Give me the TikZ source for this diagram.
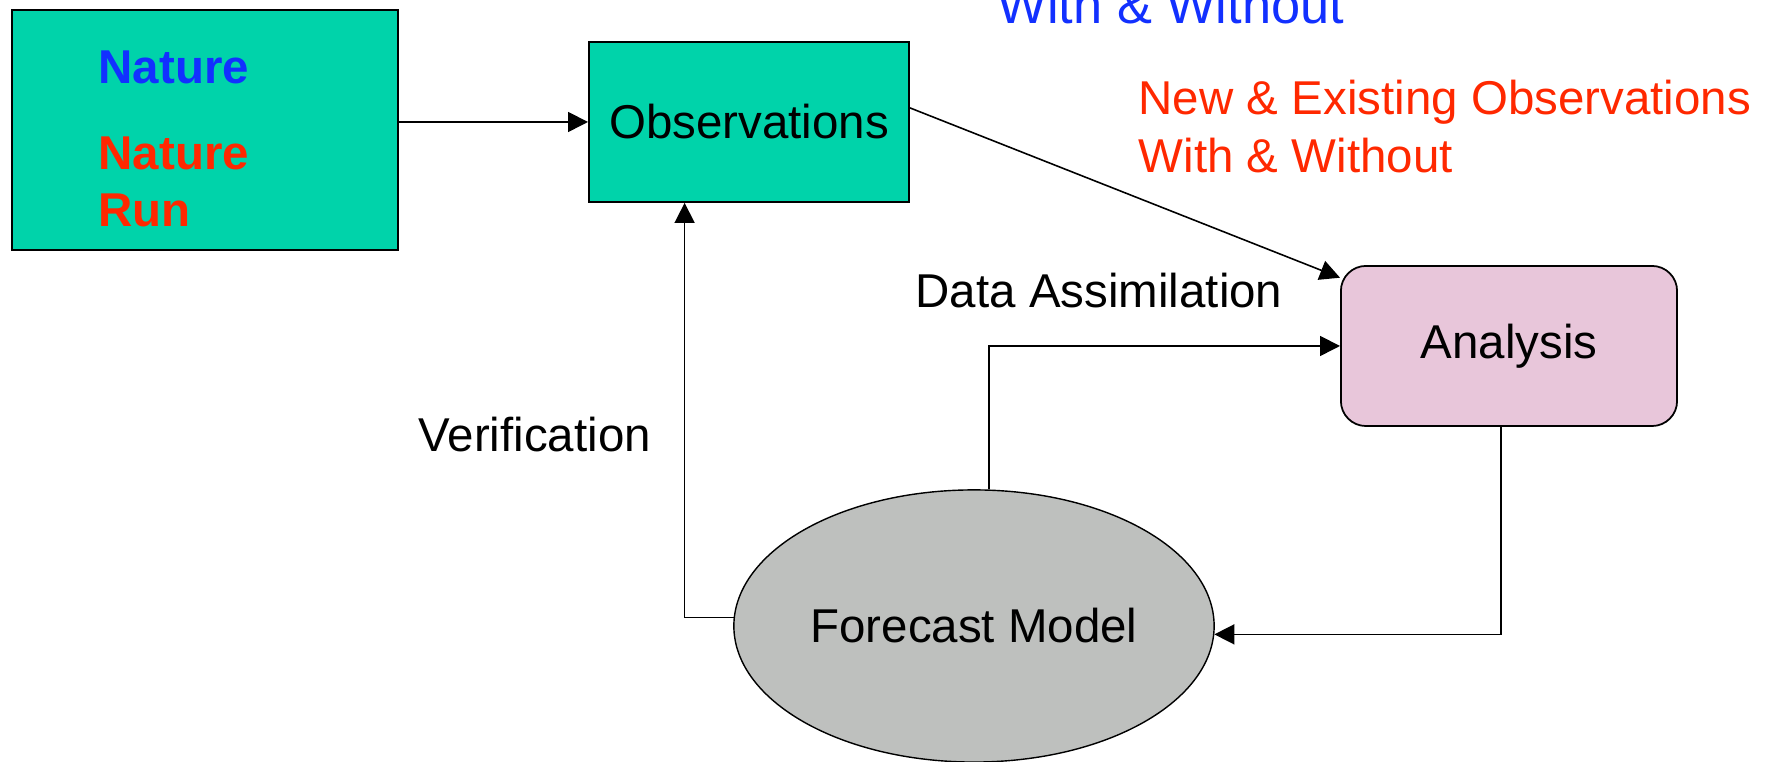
\documentclass[tikz,border=0pt]{standalone}
\usepackage{fontspec}
\setmainfont{Liberation Sans}
\usepackage{tikz}
\usetikzlibrary{positioning,calc,shapes.geometric,arrows.meta}
\definecolor{natgreen}{RGB}{0,211,170}
\definecolor{natblue}{RGB}{18,48,255}
\definecolor{natred}{RGB}{255,40,0}
\definecolor{anapink}{RGB}{232,198,218}
\definecolor{fcgray}{RGB}{190,192,190}

\begin{document}
\begin{tikzpicture}[x=0.01cm, y=-0.01cm, font=\fontsize{13.5}{16}\selectfont,
  box/.style={draw, line width=0.5pt, inner sep=0},
  lbl/.style={inner sep=0, anchor=base west},
  arr/.style={line width=0.45pt, -{Triangle[length=2mm,width=2mm]}}]
\useasboundingbox (0,0) rectangle (1771,762);
% boxes
\node[box, fill=natgreen, minimum width=3.86cm, minimum height=2.4cm] (NATURE) at (205,130) {};
\node[box, fill=natgreen, minimum width=3.2cm, minimum height=1.6cm] (OBS) at (749,122) {Observations};
\node[box, fill=anapink, rounded corners=0.25cm, minimum width=3.36cm, minimum height=1.6cm] (ANA) at (1509,346) {Analysis};
\node[box, line width=0.4pt, fill=fcgray, ellipse, minimum width=4.8cm, minimum height=2.72cm] (FCST) at (974,626) {Forecast Model};
% text in the nature box
\node[lbl, font=\fontsize{13.5}{16}\bfseries, text=natblue] (NATA) at (98,84) {Nature};
\node[lbl, font=\fontsize{13.5}{16}\bfseries, text=natred] (NATB) at (98,170) {Nature};
\node[lbl, font=\fontsize{13.5}{16}\bfseries, text=natred] (NATC) at (98,227) {Run};
% labels
\node[lbl, font=\fontsize{14.9}{18}\selectfont, text=natblue] (TOPA) at (997,24) {With \& Without};
\node[lbl, text=natred] (NEWA) at (1138,115) {New \& Existing Observations};
\node[lbl, text=natred] (NEWB) at (1138,173) {With \& Without};
\node[lbl] (DA) at (915,308) {Data Assimilation};
\node[lbl] (VER) at (418,452) {Verification};
% connectors
\draw[arr] (NATURE.east |- OBS.west) -- (OBS.west);
\draw[arr] (OBS.5) -- (ANA.158);
\draw[arr] ([xshift=0.15cm]FCST.north) |- (ANA.west);
\draw[arr] (FCST.178) -| ($(OBS.south west)!0.3!(OBS.south east)$);
\draw[arr] ([xshift=-0.08cm]ANA.south) |- (FCST.358);
\end{tikzpicture}
\end{document}
